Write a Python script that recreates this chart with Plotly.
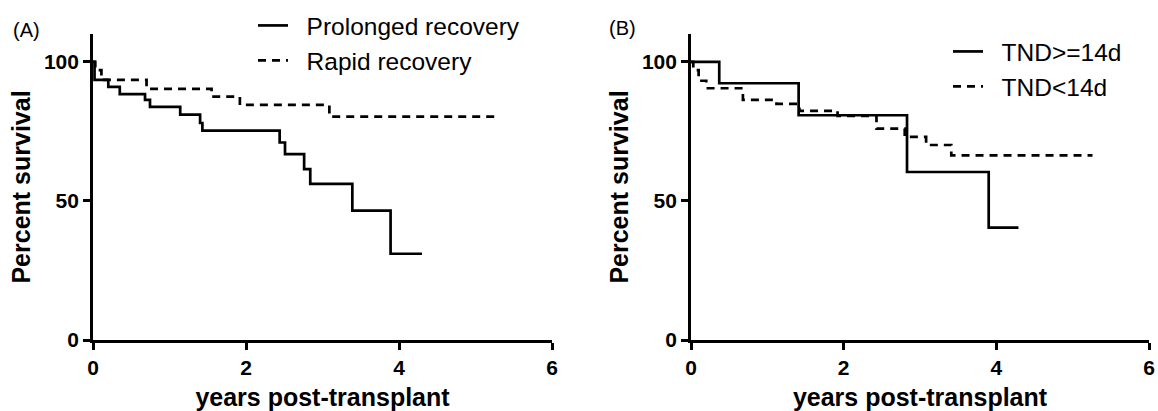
import plotly.graph_objects as go

# ---- Data ----
a_prolonged_t = [0, 0.02, 0.20, 0.35, 0.68, 0.745, 1.14, 1.40, 1.43, 2.44, 2.51, 2.76, 2.84, 3.39, 3.89, 4.30]
a_prolonged_s = [100, 93.5, 91.0, 88.4, 86.3, 83.8, 81.0, 78.0, 75.3, 71.0, 66.8, 61.4, 56.1, 46.5, 31.0, 31.0]

a_rapid_t = [0, 0.03, 0.11, 0.70, 1.55, 1.92, 3.09, 5.32]
a_rapid_s = [100, 97.0, 93.5, 90.3, 87.5, 84.5, 80.3, 80.3]

b_long_t = [0, 0.37, 1.41, 2.83, 3.90, 4.29]
b_long_s = [100, 92.3, 80.8, 60.4, 40.4, 40.4]

b_short_t = [0, 0.03, 0.10, 0.20, 0.68, 1.12, 1.42, 1.92, 2.43, 2.80, 3.08, 3.41, 5.26]
b_short_s = [100, 97.0, 93.2, 90.5, 86.3, 84.9, 82.4, 80.6, 76.0, 73.0, 70.1, 66.4, 66.4]

x_ticks = [0, 2, 4, 6]
y_ticks = [0, 50, 100]

W, H = 1158, 411
FONT = "Arial, Liberation Sans, Helvetica, sans-serif"
DASH = "8px,6px"
LW = 2.7

fig = go.Figure()

fig.add_trace(go.Scatter(x=a_prolonged_t, y=a_prolonged_s, mode="lines", line_shape="hv",
                         line=dict(color="black", width=LW),
                         name="\u00a0\u00a0Prolonged recovery", xaxis="x", yaxis="y", legend="legend"))
fig.add_trace(go.Scatter(x=a_rapid_t, y=a_rapid_s, mode="lines", line_shape="hv",
                         line=dict(color="black", width=LW, dash=DASH),
                         name="\u00a0\u00a0Rapid recovery", xaxis="x", yaxis="y", legend="legend"))
fig.add_trace(go.Scatter(x=b_long_t, y=b_long_s, mode="lines", line_shape="hv",
                         line=dict(color="black", width=LW),
                         name="\u00a0\u00a0TND>=14d", xaxis="x2", yaxis="y2", legend="legend2"))
fig.add_trace(go.Scatter(x=b_short_t, y=b_short_s, mode="lines", line_shape="hv",
                         line=dict(color="black", width=LW, dash=DASH),
                         name="\u00a0\u00a0TND<14d", xaxis="x2", yaxis="y2", legend="legend2"))

ydom = [(H - 340) / H, (H - 34) / H]

def xaxis(dom, anchor):
    return dict(domain=dom, anchor=anchor, range=[0, 6], tickvals=x_ticks,
                showgrid=False, zeroline=False, showline=True, linecolor="black", linewidth=LW,
                ticks="outside", ticklen=7, tickwidth=LW, tickcolor="black",
                tickfont=dict(family=FONT, size=21, color="black", weight="bold"),
                title=dict(text="<b>years post-transplant</b>", standoff=15,
                           font=dict(family=FONT, size=25, color="black")),
                automargin=False, fixedrange=True)

def yaxis(anchor):
    return dict(domain=ydom, anchor=anchor, range=[0, 110], tickvals=y_ticks,
                showgrid=False, zeroline=False, showline=True, linecolor="black", linewidth=LW,
                ticks="outside", ticklen=7, tickwidth=LW, tickcolor="black",
                tickfont=dict(family=FONT, size=21, color="black", weight="bold"),
                title=dict(text="<b>Percent survival</b>", standoff=7,
                           font=dict(family=FONT, size=25, color="black")),
                automargin=False, fixedrange=True)

fig.update_layout(
    width=W, height=H,
    margin=dict(l=0, r=0, t=0, b=0),
    paper_bgcolor="white", plot_bgcolor="white",
    font=dict(family=FONT, color="black"),
    xaxis=xaxis([93 / W, 552 / W], "y"),
    yaxis=yaxis("x"),
    xaxis2=xaxis([691 / W, 1149 / W], "y2"),
    yaxis2=yaxis("x2"),
    legend=dict(x=253 / W, y=1 - 3 / H, xanchor="left", yanchor="top",
                font=dict(family=FONT, size=24.5, color="black"),
                bgcolor="rgba(0,0,0,0)", itemwidth=30, tracegroupgap=0),
    legend2=dict(x=948 / W, y=1 - 29 / H, xanchor="left", yanchor="top",
                 font=dict(family=FONT, size=24.5, color="black"),
                 bgcolor="rgba(0,0,0,0)", itemwidth=30, tracegroupgap=0),
    annotations=[
        dict(text="(A)", x=11 / W, y=1 - 30 / H, xref="paper", yref="paper",
             xanchor="left", yanchor="middle", showarrow=False,
             font=dict(family=FONT, size=20, color="black")),
        dict(text="(B)", x=607 / W, y=1 - 28 / H, xref="paper", yref="paper",
             xanchor="left", yanchor="middle", showarrow=False,
             font=dict(family=FONT, size=20, color="black")),
    ],
)

fig.write_html("out.html", config={"displayModeBar": False},
               post_script="document.body.style.margin='0px';")
